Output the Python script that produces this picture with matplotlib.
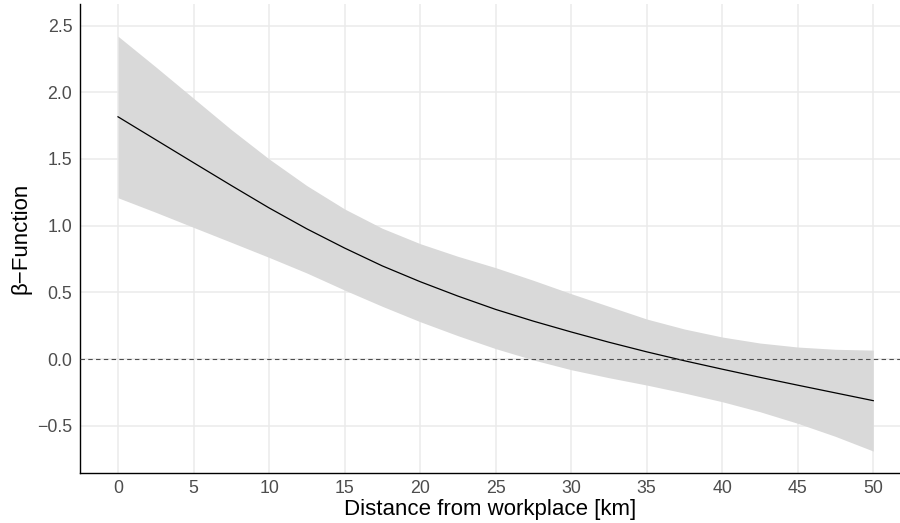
import matplotlib.pyplot as plt
import numpy as np

plt.rcParams['font.family'] = ['Liberation Sans', 'DejaVu Sans']

distancia = [0, 2.5, 5, 7.5, 10, 12.5, 15, 17.5, 20, 22.5, 25,
             27.5, 30, 32.5, 35, 37.5, 40, 42.5, 45, 47.5, 50]
beta = [1.816, 1.644, 1.472, 1.301, 1.133, 0.976, 0.832, 0.698, 0.58, 0.472, 0.372,
        0.284, 0.203, 0.126, 0.054, -0.013, -0.076, -0.137, -0.196, -0.254, -0.312]
beta_sup = [2.42, 2.19, 1.955, 1.72, 1.50, 1.30, 1.125, 0.98, 0.865, 0.77, 0.685,
            0.59, 0.49, 0.395, 0.30, 0.225, 0.165, 0.12, 0.09, 0.073, 0.067]
beta_inf = [1.209, 1.10, 0.987, 0.875, 0.762, 0.645, 0.517, 0.395, 0.28, 0.175, 0.078,
            -0.007, -0.08, -0.14, -0.195, -0.255, -0.32, -0.395, -0.482, -0.58, -0.69]

xticks = [0, 5, 10, 15, 20, 25, 30, 35, 40, 45, 50]
yticks = [-0.5, 0.0, 0.5, 1.0, 1.5, 2.0, 2.5]

fig = plt.figure(figsize=(9, 5.23), dpi=100)
ax = fig.add_axes([0.0889, 0.0962, 0.9111, 0.896])

ax.fill_between(distancia, beta_inf, beta_sup, color='#D9D9D9', linewidth=0, zorder=2)
ax.plot(distancia, beta, color='black', linewidth=0.9, zorder=3)
ax.axhline(0, color='#4D4D4D', linestyle=(0, (4, 3)), linewidth=0.8, zorder=3)

ax.set_xlim(-2.516, 51.77)
ax.set_ylim(-0.852, 2.661)
ax.set_xticks(xticks)
ax.set_yticks(yticks)
ax.set_yticklabels([f'{v:.1f}'.replace('-', '\u2212') for v in yticks])

ax.grid(True, color='#EBEBEB', linewidth=1.1, zorder=0)
ax.set_axisbelow(True)
for s in ['top', 'right']:
    ax.spines[s].set_visible(False)
for s in ['left', 'bottom']:
    ax.spines[s].set_color('black')
    ax.spines[s].set_linewidth(1.0)

ax.tick_params(length=0, labelsize=12.8, colors='#4D4D4D', pad=5.5)
ax.set_xlabel('Distance from workplace [km]', fontsize=16, labelpad=1)
ax.set_ylabel('\u03b2\u2212Function', fontsize=16, labelpad=4)

fig.savefig('out.png', dpi=100)
